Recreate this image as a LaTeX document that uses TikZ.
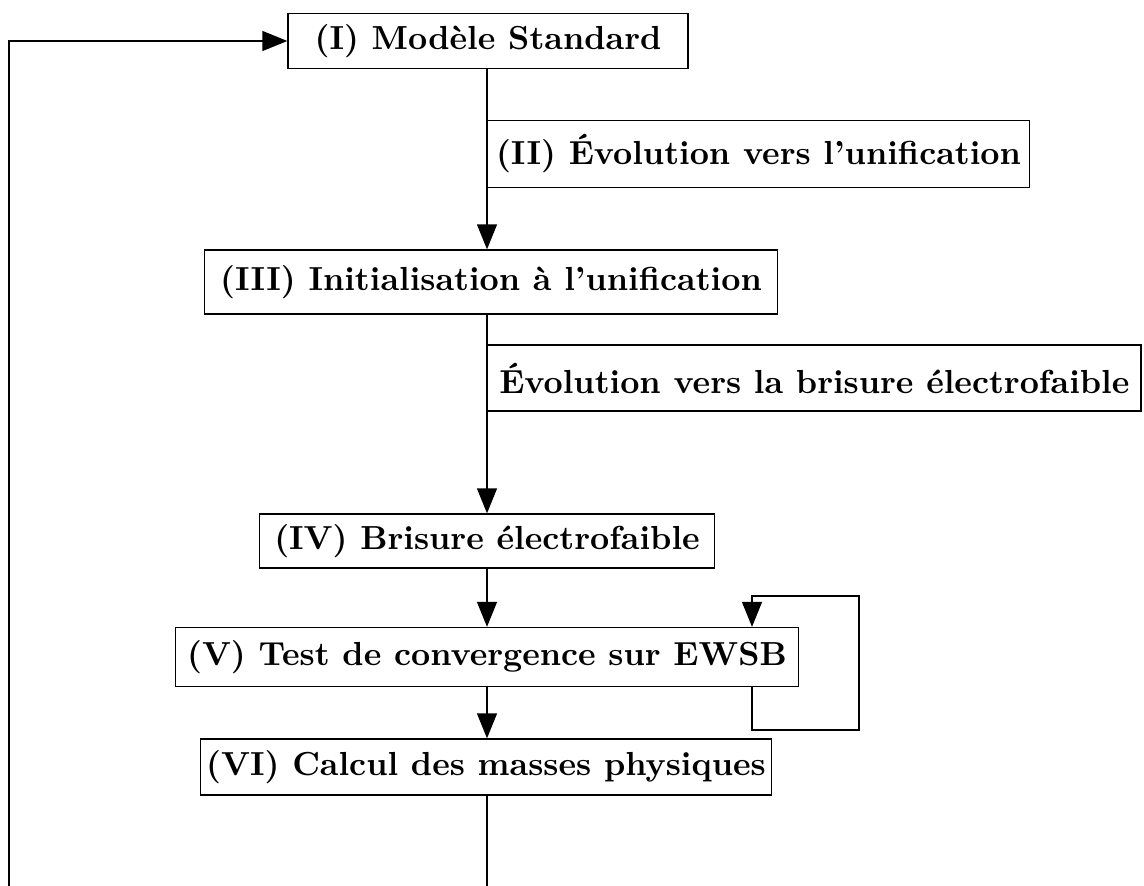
\documentclass[tikz,border=0pt]{standalone}
\usepackage{fontspec}
\usetikzlibrary{arrows.meta}
\begin{document}
\begin{tikzpicture}[x=0.3pt, y=-0.3pt,
  etape/.style={draw, font=\bfseries, inner sep=0pt},
  fleche/.style={-{Triangle[length=7.5pt,width=6pt]}}]
\useasboundingbox (0,0) rectangle (1144,885);
\clip (0,0) rectangle (1144,885);
\coordinate (axe) at (487,0);
% les etapes
\node[etape, minimum width=120pt, minimum height=16.5pt] (I) at (488,41) {(I) Modèle Standard};
\node[etape, anchor=west, minimum width=162.5pt, minimum height=20pt] (II) at (487,154) {(II) Évolution vers l'unification};
\node[etape, minimum width=171.8pt, minimum height=19.2pt] (III) at (491,282) {(III) Initialisation à l'unification};
\node[etape, anchor=west, minimum width=196pt, minimum height=19.8pt] (EW) at (487,378) {Évolution vers la brisure électrofaible};
\node[etape, minimum width=136.6pt, minimum height=16.2pt] (IV) at (487,541) {(IV) Brisure électrofaible};
\node[etape, minimum width=186.8pt, minimum height=17.7pt] (V) at (487,657) {(V) Test de convergence sur EWSB};
\node[etape, minimum width=171.2pt, minimum height=16.8pt] (VI) at (486,767) {(VI) Calcul des masses physiques};
% les fleches
\draw[fleche] (I.south -| axe) -- (III.north -| axe);
\draw[fleche] (III.south -| axe) -- (IV.north -| axe);
\draw[fleche] (IV.south -| axe) -- (V.north -| axe);
\draw[fleche] (V.south -| axe) -- (VI.north -| axe);
% boucle sur EWSB
\coordinate (bx) at (752,0);
\coordinate (bb) at (859,730);
\coordinate (bh) at (859,596);
\draw[fleche] (V.south -| bx) |- (bb) -- (bh) -| (V.north -| bx);
% retour au debut
\coordinate (bas) at (487,930);
\coordinate (gauche) at (9,930);
\draw[fleche] (VI.south -| axe) -- (bas) -- (gauche) |- (I.west);
\end{tikzpicture}
\end{document}
